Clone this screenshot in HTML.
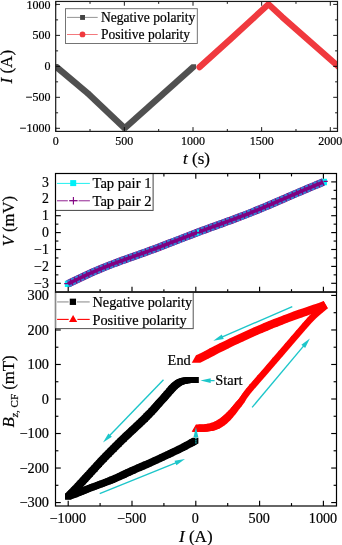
<!DOCTYPE html>
<html><head><meta charset="utf-8"><style>
html,body{margin:0;padding:0;background:#fff;}
svg{display:block;will-change:transform;}
text{font-family:"Liberation Serif",serif;fill:#000;stroke:#000;stroke-width:0.2px;}
</style></head><body>
<svg width="342" height="545" viewBox="0 0 342 545">
<rect width="342" height="545" fill="#fff"/>
<defs><clipPath id="c1"><rect x="55.7" y="1.45" width="281.8" height="129.95"/></clipPath>
<clipPath id="c2"><rect x="55.5" y="173.5" width="281" height="118.6"/></clipPath>
<clipPath id="c3"><rect x="55.5" y="292.1" width="281" height="213.9"/></clipPath></defs>
<g clip-path="url(#c1)"><g fill="#505050"><polygon points="53.45,64.1 57.95,64.1 90.25,91.35 90.25,95.85 85.75,95.85 53.45,68.6"/><polygon points="85.75,91.35 90.25,91.35 126.9,126.05 126.9,130.55 122.4,130.55 85.75,95.85"/><polygon points="122.4,126.05 191.55,64.2 196.05,64.2 196.05,68.7 126.9,130.55 122.4,130.55"/></g><polyline points="199.5,67.1 230,39.6 256,15.8 268.5,4.3 282,16.8 340,67.9" fill="none" stroke="#f0393e" stroke-width="6.3" stroke-linejoin="round" stroke-linecap="round"/></g>
<g><line x1="55.7" y1="128.3" x2="60" y2="128.3" stroke="#000" stroke-width="0.9"/><line x1="337.5" y1="128.3" x2="333.2" y2="128.3" stroke="#000" stroke-width="0.9"/><line x1="55.7" y1="112.81" x2="58.1" y2="112.81" stroke="#000" stroke-width="0.9"/><line x1="337.5" y1="112.81" x2="335.1" y2="112.81" stroke="#000" stroke-width="0.9"/><line x1="55.7" y1="97.32" x2="60" y2="97.32" stroke="#000" stroke-width="0.9"/><line x1="337.5" y1="97.32" x2="333.2" y2="97.32" stroke="#000" stroke-width="0.9"/><line x1="55.7" y1="81.84" x2="58.1" y2="81.84" stroke="#000" stroke-width="0.9"/><line x1="337.5" y1="81.84" x2="335.1" y2="81.84" stroke="#000" stroke-width="0.9"/><line x1="55.7" y1="66.35" x2="60" y2="66.35" stroke="#000" stroke-width="0.9"/><line x1="337.5" y1="66.35" x2="333.2" y2="66.35" stroke="#000" stroke-width="0.9"/><line x1="55.7" y1="50.86" x2="58.1" y2="50.86" stroke="#000" stroke-width="0.9"/><line x1="337.5" y1="50.86" x2="335.1" y2="50.86" stroke="#000" stroke-width="0.9"/><line x1="55.7" y1="35.38" x2="60" y2="35.38" stroke="#000" stroke-width="0.9"/><line x1="337.5" y1="35.38" x2="333.2" y2="35.38" stroke="#000" stroke-width="0.9"/><line x1="55.7" y1="19.89" x2="58.1" y2="19.89" stroke="#000" stroke-width="0.9"/><line x1="337.5" y1="19.89" x2="335.1" y2="19.89" stroke="#000" stroke-width="0.9"/><line x1="55.7" y1="4.4" x2="60" y2="4.4" stroke="#000" stroke-width="0.9"/><line x1="337.5" y1="4.4" x2="333.2" y2="4.4" stroke="#000" stroke-width="0.9"/><line x1="55.7" y1="131.4" x2="55.7" y2="127.1" stroke="#000" stroke-width="0.9"/><line x1="55.7" y1="1.45" x2="55.7" y2="5.75" stroke="#000" stroke-width="0.9"/><line x1="90.03" y1="131.4" x2="90.03" y2="129" stroke="#000" stroke-width="0.9"/><line x1="90.03" y1="1.45" x2="90.03" y2="3.85" stroke="#000" stroke-width="0.9"/><line x1="124.35" y1="131.4" x2="124.35" y2="127.1" stroke="#000" stroke-width="0.9"/><line x1="124.35" y1="1.45" x2="124.35" y2="5.75" stroke="#000" stroke-width="0.9"/><line x1="158.68" y1="131.4" x2="158.68" y2="129" stroke="#000" stroke-width="0.9"/><line x1="158.68" y1="1.45" x2="158.68" y2="3.85" stroke="#000" stroke-width="0.9"/><line x1="193" y1="131.4" x2="193" y2="127.1" stroke="#000" stroke-width="0.9"/><line x1="193" y1="1.45" x2="193" y2="5.75" stroke="#000" stroke-width="0.9"/><line x1="227.32" y1="131.4" x2="227.32" y2="129" stroke="#000" stroke-width="0.9"/><line x1="227.32" y1="1.45" x2="227.32" y2="3.85" stroke="#000" stroke-width="0.9"/><line x1="261.65" y1="131.4" x2="261.65" y2="127.1" stroke="#000" stroke-width="0.9"/><line x1="261.65" y1="1.45" x2="261.65" y2="5.75" stroke="#000" stroke-width="0.9"/><line x1="295.98" y1="131.4" x2="295.98" y2="129" stroke="#000" stroke-width="0.9"/><line x1="295.98" y1="1.45" x2="295.98" y2="3.85" stroke="#000" stroke-width="0.9"/><line x1="330.3" y1="131.4" x2="330.3" y2="127.1" stroke="#000" stroke-width="0.9"/><line x1="330.3" y1="1.45" x2="330.3" y2="5.75" stroke="#000" stroke-width="0.9"/></g>
<rect x="65.5" y="8.7" width="131.8" height="34.8" fill="#fff" stroke="#666" stroke-width="0.9"/>
<line x1="67" y1="17.4" x2="97.7" y2="17.4" stroke="#888" stroke-width="0.9"/>
<rect x="80.1" y="15.0" width="4.9" height="4.9" fill="#444"/>
<line x1="67" y1="34.5" x2="97.7" y2="34.5" stroke="#f26a6e" stroke-width="0.9"/>
<circle cx="82.5" cy="34.4" r="2.9" fill="#f0393e"/>
<text x="100.9" y="21.7" font-size="13.55" text-anchor="start">Negative polarity</text>
<text x="100.9" y="38.6" font-size="13.55" text-anchor="start">Positive polarity</text>
<rect x="55.7" y="1.45" width="281.8" height="129.95" fill="none" stroke="#1a1a1a" stroke-width="1.2"/>
<text x="50.6" y="8.5" font-size="12" text-anchor="end">1000</text>
<text x="50.6" y="39.48" font-size="12" text-anchor="end">500</text>
<text x="50.6" y="70.45" font-size="12" text-anchor="end">0</text>
<text x="50.6" y="101.42" font-size="12" text-anchor="end">&#8722;500</text>
<text x="50.6" y="132.4" font-size="12" text-anchor="end">&#8722;1000</text>
<text x="55.7" y="145.4" font-size="12" text-anchor="middle">0</text>
<text x="124.35" y="145.4" font-size="12" text-anchor="middle">500</text>
<text x="193" y="145.4" font-size="12" text-anchor="middle">1000</text>
<text x="261.65" y="145.4" font-size="12" text-anchor="middle">1500</text>
<text x="330.3" y="145.4" font-size="12" text-anchor="middle">2000</text>
<text x="196.5" y="164.3" font-size="17" text-anchor="middle"><tspan font-style="italic">t</tspan> (s)</text>
<text transform="translate(12.2,66.7) rotate(-90)" x="0" y="0" font-size="17" text-anchor="middle"><tspan font-style="italic">I</tspan> (A)</text>
<g clip-path="url(#c2)"><rect x="64.85" y="280.7" width="6.3" height="6.3" fill="#00f0f8"/><rect x="320.45" y="178.75" width="6.5" height="6.5" fill="#00f0f8"/><polyline points="68,283.85 71.19,282.29 74.39,280.74 77.58,279.21 80.77,277.68 83.96,276.18 87.16,274.7 90.35,273.25 93.54,271.84 96.73,270.45 99.92,269.1 103.12,267.78 106.31,266.5 109.5,265.24 112.69,264.02 115.89,262.82 119.08,261.64 122.27,260.48 125.47,259.33 128.66,258.19 131.85,257.06 135.04,255.93 138.23,254.8 141.43,253.67 144.62,252.52 147.81,251.37 151,250.2 154.2,249.02 157.39,247.83 160.58,246.62 163.77,245.41 166.97,244.19 170.16,242.95 173.35,241.72 176.54,240.48 179.74,239.24 182.93,238 186.12,236.77 189.31,235.54 192.51,234.32 195.7,233.12 198.89,231.92 202.08,230.73 205.28,229.55 208.47,228.38 211.66,227.22 214.85,226.06 218.05,224.91 221.24,223.76 224.43,222.61 227.62,221.45 230.82,220.28 234.01,219.11 237.2,217.92 240.39,216.72 243.59,215.5 246.78,214.26 249.97,213.01 253.16,211.73 256.36,210.44 259.55,209.13 262.74,207.8 265.94,206.45 269.13,205.1 272.32,203.73 275.51,202.35 278.7,200.97 281.9,199.59 285.09,198.2 288.28,196.82 291.48,195.44 294.67,194.06 297.86,192.7 301.05,191.34 304.25,189.98 307.44,188.64 310.63,187.3 313.82,185.97 317.01,184.64 320.21,183.32 323.4,182" fill="none" stroke="#800080" stroke-width="7.7"/><polyline points="66.82,281.42 70.01,279.87 73.21,278.31 76.41,276.77 79.61,275.24 82.82,273.73 86.03,272.25 89.24,270.79 92.45,269.36 95.67,267.97 98.88,266.61 102.1,265.28 105.31,263.99 108.52,262.73 111.74,261.49 114.94,260.29 118.15,259.1 121.36,257.94 124.56,256.79 127.75,255.65 130.95,254.52 134.14,253.39 137.33,252.26 140.52,251.12 143.7,249.98 146.89,248.83 150.07,247.66 153.26,246.49 156.44,245.3 159.63,244.1 162.81,242.89 166,241.67 169.19,240.44 172.38,239.2 175.57,237.96 178.76,236.72 181.96,235.48 185.15,234.25 188.35,233.02 191.55,231.8 194.75,230.59 197.95,229.39 201.15,228.2 204.35,227.02 207.54,225.84 210.74,224.68 213.94,223.52 217.13,222.37 220.32,221.22 223.51,220.07 226.7,218.91 229.89,217.75 233.07,216.58 236.26,215.39 239.44,214.19 242.62,212.98 245.8,211.75 248.98,210.5 252.16,209.23 255.34,207.94 258.52,206.63 261.7,205.31 264.88,203.97 268.07,202.61 271.25,201.25 274.44,199.87 277.63,198.49 280.82,197.11 284.02,195.72 287.21,194.34 290.41,192.96 293.6,191.58 296.8,190.21 300,188.85 303.19,187.5 306.39,186.15 309.59,184.81 312.79,183.48 315.98,182.15 319.17,180.83 322.37,179.51" fill="none" stroke="#3482d2" stroke-width="1.9" stroke-dasharray="3.3 1.2"/><polyline points="69.18,286.28 72.37,284.72 75.56,283.17 78.74,281.64 81.93,280.12 85.1,278.63 88.28,277.16 91.45,275.72 94.63,274.31 97.8,272.93 100.97,271.59 104.14,270.28 107.31,269.01 110.48,267.76 113.65,266.54 116.83,265.35 120.01,264.17 123.19,263.02 126.37,261.87 129.56,260.74 132.75,259.61 135.94,258.48 139.14,257.35 142.34,256.21 145.54,255.06 148.74,253.9 151.94,252.73 155.14,251.55 158.34,250.36 161.54,249.15 164.74,247.93 167.94,246.71 171.13,245.47 174.33,244.24 177.52,243 180.71,241.76 183.9,240.52 187.09,239.29 190.28,238.06 193.47,236.85 196.65,235.64 199.84,234.45 203.02,233.26 206.21,232.08 209.4,230.92 212.58,229.76 215.77,228.6 218.96,227.45 222.16,226.3 225.35,225.14 228.55,223.99 231.75,222.82 234.95,221.64 238.15,220.45 241.35,219.24 244.56,218.02 247.76,216.78 250.97,215.52 254.17,214.24 257.38,212.94 260.58,211.62 263.78,210.29 266.99,208.94 270.19,207.58 273.39,206.21 276.58,204.83 279.78,203.45 282.97,202.06 286.16,200.68 289.35,199.3 292.54,197.92 295.73,196.54 298.92,195.18 302.11,193.82 305.3,192.47 308.48,191.13 311.67,189.79 314.86,188.46 318.05,187.14 321.24,185.82 324.43,184.49" fill="none" stroke="#3482d2" stroke-width="1.9" stroke-dasharray="3.3 1.2"/><line x1="64.2" y1="283.55" x2="71.8" y2="283.55" stroke="#800080" stroke-width="1.2"/><rect x="197" y="229.8" width="2" height="2" fill="#00f0f8"/><rect x="197" y="233.6" width="2" height="2" fill="#00f0f8"/><line x1="323.6" y1="181.4" x2="327.8" y2="181.4" stroke="#800080" stroke-width="1.2"/></g>
<g><line x1="55.5" y1="283.3" x2="60.8" y2="283.3" stroke="#000" stroke-width="1.15"/><line x1="336.5" y1="283.3" x2="331.2" y2="283.3" stroke="#000" stroke-width="1.15"/><line x1="55.5" y1="274.85" x2="58.4" y2="274.85" stroke="#000" stroke-width="1.15"/><line x1="336.5" y1="274.85" x2="333.6" y2="274.85" stroke="#000" stroke-width="1.15"/><line x1="55.5" y1="266.4" x2="60.8" y2="266.4" stroke="#000" stroke-width="1.15"/><line x1="336.5" y1="266.4" x2="331.2" y2="266.4" stroke="#000" stroke-width="1.15"/><line x1="55.5" y1="257.95" x2="58.4" y2="257.95" stroke="#000" stroke-width="1.15"/><line x1="336.5" y1="257.95" x2="333.6" y2="257.95" stroke="#000" stroke-width="1.15"/><line x1="55.5" y1="249.5" x2="60.8" y2="249.5" stroke="#000" stroke-width="1.15"/><line x1="336.5" y1="249.5" x2="331.2" y2="249.5" stroke="#000" stroke-width="1.15"/><line x1="55.5" y1="241.05" x2="58.4" y2="241.05" stroke="#000" stroke-width="1.15"/><line x1="336.5" y1="241.05" x2="333.6" y2="241.05" stroke="#000" stroke-width="1.15"/><line x1="55.5" y1="232.6" x2="60.8" y2="232.6" stroke="#000" stroke-width="1.15"/><line x1="336.5" y1="232.6" x2="331.2" y2="232.6" stroke="#000" stroke-width="1.15"/><line x1="55.5" y1="224.15" x2="58.4" y2="224.15" stroke="#000" stroke-width="1.15"/><line x1="336.5" y1="224.15" x2="333.6" y2="224.15" stroke="#000" stroke-width="1.15"/><line x1="55.5" y1="215.7" x2="60.8" y2="215.7" stroke="#000" stroke-width="1.15"/><line x1="336.5" y1="215.7" x2="331.2" y2="215.7" stroke="#000" stroke-width="1.15"/><line x1="55.5" y1="207.25" x2="58.4" y2="207.25" stroke="#000" stroke-width="1.15"/><line x1="336.5" y1="207.25" x2="333.6" y2="207.25" stroke="#000" stroke-width="1.15"/><line x1="55.5" y1="198.8" x2="60.8" y2="198.8" stroke="#000" stroke-width="1.15"/><line x1="336.5" y1="198.8" x2="331.2" y2="198.8" stroke="#000" stroke-width="1.15"/><line x1="55.5" y1="190.35" x2="58.4" y2="190.35" stroke="#000" stroke-width="1.15"/><line x1="336.5" y1="190.35" x2="333.6" y2="190.35" stroke="#000" stroke-width="1.15"/><line x1="55.5" y1="181.9" x2="60.8" y2="181.9" stroke="#000" stroke-width="1.15"/><line x1="336.5" y1="181.9" x2="331.2" y2="181.9" stroke="#000" stroke-width="1.15"/><line x1="68.2" y1="292.1" x2="68.2" y2="286.8" stroke="#000" stroke-width="1.15"/><line x1="68.2" y1="173.5" x2="68.2" y2="178.8" stroke="#000" stroke-width="1.15"/><line x1="100.1" y1="292.1" x2="100.1" y2="289.2" stroke="#000" stroke-width="1.15"/><line x1="100.1" y1="173.5" x2="100.1" y2="176.4" stroke="#000" stroke-width="1.15"/><line x1="132" y1="292.1" x2="132" y2="286.8" stroke="#000" stroke-width="1.15"/><line x1="132" y1="173.5" x2="132" y2="178.8" stroke="#000" stroke-width="1.15"/><line x1="163.9" y1="292.1" x2="163.9" y2="289.2" stroke="#000" stroke-width="1.15"/><line x1="163.9" y1="173.5" x2="163.9" y2="176.4" stroke="#000" stroke-width="1.15"/><line x1="195.8" y1="292.1" x2="195.8" y2="286.8" stroke="#000" stroke-width="1.15"/><line x1="195.8" y1="173.5" x2="195.8" y2="178.8" stroke="#000" stroke-width="1.15"/><line x1="227.7" y1="292.1" x2="227.7" y2="289.2" stroke="#000" stroke-width="1.15"/><line x1="227.7" y1="173.5" x2="227.7" y2="176.4" stroke="#000" stroke-width="1.15"/><line x1="259.6" y1="292.1" x2="259.6" y2="286.8" stroke="#000" stroke-width="1.15"/><line x1="259.6" y1="173.5" x2="259.6" y2="178.8" stroke="#000" stroke-width="1.15"/><line x1="291.5" y1="292.1" x2="291.5" y2="289.2" stroke="#000" stroke-width="1.15"/><line x1="291.5" y1="173.5" x2="291.5" y2="176.4" stroke="#000" stroke-width="1.15"/><line x1="323.4" y1="292.1" x2="323.4" y2="286.8" stroke="#000" stroke-width="1.15"/><line x1="323.4" y1="173.5" x2="323.4" y2="178.8" stroke="#000" stroke-width="1.15"/></g>
<rect x="55.5" y="173.5" width="97.6" height="36.9" fill="#fff" stroke="#444" stroke-width="1"/>
<line x1="57" y1="183.4" x2="89.9" y2="183.4" stroke="#20f0f0" stroke-width="1"/>
<rect x="70.2" y="180.1" width="6" height="6" fill="#00f0f8"/>
<line x1="57" y1="200.7" x2="67.8" y2="200.7" stroke="#b060b0" stroke-width="1.4"/>
<line x1="78.6" y1="200.7" x2="89.9" y2="200.7" stroke="#b060b0" stroke-width="1.4"/>
<line x1="73.4" y1="196.9" x2="73.4" y2="204.6" stroke="#800080" stroke-width="1.1"/>
<line x1="69.2" y1="200.7" x2="77.6" y2="200.7" stroke="#800080" stroke-width="1.3"/>
<text x="92.5" y="187.7" font-size="14.6" text-anchor="start">Tap pair 1</text>
<text x="92.5" y="205.6" font-size="14.6" text-anchor="start">Tap pair 2</text>
<rect x="55.5" y="173.5" width="281" height="118.6" fill="none" stroke="#000" stroke-width="1.2"/>
<text x="48.8" y="287.9" font-size="13.8" text-anchor="end">&#8722;3</text>
<text x="48.8" y="271" font-size="13.8" text-anchor="end">&#8722;2</text>
<text x="48.8" y="254.1" font-size="13.8" text-anchor="end">&#8722;1</text>
<text x="48.8" y="237.2" font-size="13.8" text-anchor="end">0</text>
<text x="48.8" y="220.3" font-size="13.8" text-anchor="end">1</text>
<text x="48.8" y="203.4" font-size="13.8" text-anchor="end">2</text>
<text x="48.8" y="186.5" font-size="13.8" text-anchor="end">3</text>
<text transform="translate(13.9,221.1) rotate(-90)" x="0" y="0" font-size="16.6" text-anchor="middle"><tspan font-style="italic">V</tspan> (mV)</text>
<g clip-path="url(#c3)"><g fill="#000"><polygon points="192.35,377.11 193,377.1 198.8,377.1 198.8,382.9 198.15,382.91 192.35,382.91"/><polygon points="191.44,377.11 192.35,377.11 198.15,377.11 198.15,382.91 197.24,382.91 191.44,382.91"/><polygon points="190.36,377.12 191.44,377.11 197.24,377.11 197.24,382.91 196.16,382.92 190.36,382.92"/><polygon points="189.22,377.13 190.36,377.12 196.16,377.12 196.16,382.92 195.02,382.93 189.22,382.93"/><polygon points="188.1,377.16 189.22,377.13 195.02,377.13 195.02,382.93 193.9,382.96 188.1,382.96"/><polygon points="187.1,377.2 188.1,377.16 193.9,377.16 193.9,382.96 192.9,383 187.1,383"/><polygon points="186.21,377.25 187.1,377.2 192.9,377.2 192.9,383 192.01,383.05 186.21,383.05"/><polygon points="185.35,377.31 186.21,377.25 192.01,377.25 192.01,383.05 191.15,383.11 185.35,383.11"/><polygon points="184.51,377.38 185.35,377.31 191.15,377.31 191.15,383.11 190.31,383.18 184.51,383.18"/><polygon points="183.7,377.46 184.51,377.38 190.31,377.38 190.31,383.18 189.5,383.26 183.7,383.26"/><polygon points="182.89,377.57 183.7,377.46 189.5,377.46 189.5,383.26 188.69,383.37 182.89,383.37"/><polygon points="182.1,377.7 182.89,377.57 188.69,377.57 188.69,383.37 187.9,383.5 182.1,383.5"/><polygon points="181.31,377.86 182.1,377.7 187.9,377.7 187.9,383.5 187.12,383.66 181.31,383.66"/><polygon points="180.54,378.03 181.31,377.86 187.12,377.86 187.12,383.66 186.34,383.83 180.54,383.83"/><polygon points="179.79,378.23 180.54,378.03 186.34,378.03 186.34,383.83 185.59,384.03 179.79,384.03"/><polygon points="179.04,378.46 179.79,378.23 185.59,378.23 185.59,384.03 184.84,384.26 179.04,384.26"/><polygon points="178.31,378.71 179.04,378.46 184.84,378.46 184.84,384.26 184.12,384.51 178.31,384.51"/><polygon points="177.6,379 178.31,378.71 184.12,378.71 184.12,384.51 183.4,384.8 177.6,384.8"/><polygon points="176.9,379.32 177.6,379 183.4,379 183.4,384.8 182.7,385.12 176.9,385.12"/><polygon points="176.23,379.67 176.9,379.32 182.7,379.32 182.7,385.12 182.03,385.47 176.23,385.47"/><polygon points="175.57,380.05 176.23,379.67 182.03,379.67 182.03,385.47 181.37,385.85 175.57,385.85"/><polygon points="174.91,380.46 175.57,380.05 181.37,380.05 181.37,385.85 180.72,386.26 174.91,386.26"/><polygon points="174.26,380.91 174.91,380.46 180.72,380.46 180.72,386.26 180.06,386.71 174.26,386.71"/><polygon points="173.6,381.4 174.26,380.91 180.06,380.91 180.06,386.71 179.4,387.2 173.6,387.2"/><polygon points="172.94,381.93 173.6,381.4 179.4,381.4 179.4,387.2 178.74,387.73 172.94,387.73"/><polygon points="172.27,382.5 172.94,381.93 178.74,381.93 178.74,387.73 178.07,388.3 172.27,388.3"/><polygon points="171.61,383.1 172.27,382.5 178.07,382.5 178.07,388.3 177.41,388.9 171.61,388.9"/><polygon points="170.95,383.74 171.61,383.1 177.41,383.1 177.41,388.9 176.75,389.54 170.95,389.54"/><polygon points="170.28,384.4 170.95,383.74 176.75,383.74 176.75,389.54 176.08,390.2 170.28,390.2"/><polygon points="169.6,385.1 170.28,384.4 176.08,384.4 176.08,390.2 175.4,390.9 169.6,390.9"/><polygon points="168.91,385.83 169.6,385.1 175.4,385.1 175.4,390.9 174.72,391.63 168.91,391.63"/><polygon points="168.23,386.6 168.91,385.83 174.72,385.83 174.72,391.63 174.03,392.4 168.23,392.4"/><polygon points="167.53,387.41 168.23,386.6 174.03,386.6 174.03,392.4 173.33,393.21 167.53,393.21"/><polygon points="166.83,388.23 167.53,387.41 173.33,387.41 173.33,393.21 172.63,394.03 166.83,394.03"/><polygon points="166.12,389.06 166.83,388.23 172.63,388.23 172.63,394.03 171.92,394.86 166.12,394.86"/><polygon points="165.4,389.9 166.12,389.06 171.92,389.06 171.92,394.86 171.2,395.7 165.4,395.7"/><polygon points="164.68,390.73 165.4,389.9 171.2,389.9 171.2,395.7 170.48,396.53 164.68,396.53"/><polygon points="163.96,391.57 164.68,390.73 170.48,390.73 170.48,396.53 169.76,397.37 163.96,397.37"/><polygon points="163.23,392.43 163.96,391.57 169.76,391.57 169.76,397.37 169.03,398.23 163.23,398.23"/><polygon points="162.49,393.29 163.23,392.43 169.03,392.43 169.03,398.23 168.28,399.09 162.49,399.09"/><polygon points="161.71,394.18 162.49,393.29 168.28,393.29 168.28,399.09 167.51,399.98 161.71,399.98"/><polygon points="160.9,395.1 161.71,394.18 167.51,394.18 167.51,399.98 166.7,400.9 160.9,400.9"/><polygon points="160.04,396.05 160.9,395.1 166.7,395.1 166.7,400.9 165.84,401.85 160.04,401.85"/><polygon points="159.13,397.04 160.04,396.05 165.84,396.05 165.84,401.85 164.93,402.84 159.13,402.84"/><polygon points="158.2,398.05 159.13,397.04 164.93,397.04 164.93,402.84 164,403.85 158.2,403.85"/><polygon points="157.26,399.07 158.2,398.05 164,398.05 164,403.85 163.06,404.87 157.26,404.87"/><polygon points="156.32,400.09 157.26,399.07 163.06,399.07 163.06,404.87 162.12,405.89 156.32,405.89"/><polygon points="155.4,401.1 156.32,400.09 162.12,400.09 162.12,405.89 161.2,406.9 155.4,406.9"/><polygon points="154.56,402.05 155.4,401.1 161.2,401.1 161.2,406.9 160.36,407.85 154.56,407.85"/><polygon points="153.78,402.95 154.56,402.05 160.36,402.05 160.36,407.85 159.59,408.75 153.78,408.75"/><polygon points="153.02,403.85 153.78,402.95 159.59,402.95 159.59,408.75 158.82,409.65 153.02,409.65"/><polygon points="152.19,404.8 153.02,403.85 158.82,403.85 158.82,409.65 157.99,410.6 152.19,410.6"/><polygon points="151.24,405.87 152.19,404.8 157.99,404.8 157.99,410.6 157.04,411.67 151.24,411.67"/><polygon points="150.1,407.1 151.24,405.87 157.04,405.87 157.04,411.67 155.9,412.9 150.1,412.9"/><polygon points="148.74,408.54 150.1,407.1 155.9,407.1 155.9,412.9 154.54,414.33 148.74,414.33"/><polygon points="147.2,410.14 148.74,408.54 154.54,408.54 154.54,414.33 153,415.94 147.2,415.94"/><polygon points="145.53,411.85 147.2,410.14 153,410.14 153,415.94 151.33,417.65 145.53,417.65"/><polygon points="143.79,413.62 145.53,411.85 151.33,411.85 151.33,417.65 149.59,419.42 143.79,419.42"/><polygon points="142.03,415.39 143.79,413.62 149.59,413.62 149.59,419.42 147.83,421.19 142.03,421.19"/><polygon points="140.3,417.1 142.03,415.39 147.83,415.39 147.83,421.19 146.1,422.9 140.3,422.9"/><polygon points="138.58,418.77 140.3,417.1 146.1,417.1 146.1,422.9 144.38,424.57 138.58,424.57"/><polygon points="136.83,420.43 138.58,418.77 144.38,418.77 144.38,424.57 142.63,426.23 136.83,426.23"/><polygon points="135.05,422.1 136.83,420.43 142.63,420.43 142.63,426.23 140.85,427.9 135.05,427.9"/><polygon points="133.26,423.77 135.05,422.1 140.85,422.1 140.85,427.9 139.06,429.57 133.26,429.57"/><polygon points="131.48,425.43 133.26,423.77 139.06,423.77 139.06,429.57 137.28,431.23 131.48,431.23"/><polygon points="129.7,427.1 131.48,425.43 137.28,425.43 137.28,431.23 135.5,432.9 129.7,432.9"/><polygon points="127.93,428.77 129.7,427.1 135.5,427.1 135.5,432.9 133.73,434.57 127.93,434.57"/><polygon points="126.14,430.43 127.93,428.77 133.73,428.77 133.73,434.57 131.94,436.23 126.14,436.23"/><polygon points="124.36,432.1 126.14,430.43 131.94,430.43 131.94,436.23 130.16,437.9 124.36,437.9"/><polygon points="122.59,433.77 124.36,432.1 130.16,432.1 130.16,437.9 128.39,439.57 122.59,439.57"/><polygon points="120.83,435.43 122.59,433.77 128.39,433.77 128.39,439.57 126.63,441.23 120.83,441.23"/><polygon points="119.1,437.1 120.83,435.43 126.63,435.43 126.63,441.23 124.9,442.9 119.1,442.9"/><polygon points="117.4,438.77 119.1,437.1 124.9,437.1 124.9,442.9 123.2,444.57 117.4,444.57"/><polygon points="115.72,440.43 117.4,438.77 123.2,438.77 123.2,444.57 121.52,446.23 115.72,446.23"/><polygon points="114.05,442.1 115.72,440.43 121.52,440.43 121.52,446.23 119.85,447.9 114.05,447.9"/><polygon points="112.4,443.77 114.05,442.1 119.85,442.1 119.85,447.9 118.2,449.57 112.4,449.57"/><polygon points="110.75,445.43 112.4,443.77 118.2,443.77 118.2,449.57 116.55,451.23 110.75,451.23"/><polygon points="109.1,447.1 110.75,445.43 116.55,445.43 116.55,451.23 114.9,452.9 109.1,452.9"/><polygon points="107.45,448.77 109.1,447.1 114.9,447.1 114.9,452.9 113.25,454.57 107.45,454.57"/><polygon points="105.8,450.43 107.45,448.77 113.25,448.77 113.25,454.57 111.6,456.23 105.8,456.23"/><polygon points="104.15,452.1 105.8,450.43 111.6,450.43 111.6,456.23 109.95,457.9 104.15,457.9"/><polygon points="102.52,453.77 104.15,452.1 109.95,452.1 109.95,457.9 108.31,459.57 102.52,459.57"/><polygon points="100.9,455.43 102.52,453.77 108.31,453.77 108.31,459.57 106.7,461.23 100.9,461.23"/><polygon points="99.3,457.1 100.9,455.43 106.7,455.43 106.7,461.23 105.1,462.9 99.3,462.9"/><polygon points="97.73,458.77 99.3,457.1 105.1,457.1 105.1,462.9 103.53,464.57 97.73,464.57"/><polygon points="96.19,460.43 97.73,458.77 103.53,458.77 103.53,464.57 101.99,466.23 96.19,466.23"/><polygon points="94.66,462.1 96.19,460.43 101.99,460.43 101.99,466.23 100.46,467.9 94.66,467.9"/><polygon points="93.14,463.77 94.66,462.1 100.46,462.1 100.46,467.9 98.94,469.57 93.14,469.57"/><polygon points="91.63,465.43 93.14,463.77 98.94,463.77 98.94,469.57 97.43,471.23 91.63,471.23"/><polygon points="90.1,467.1 91.63,465.43 97.43,465.43 97.43,471.23 95.9,472.9 90.1,472.9"/><polygon points="88.56,468.78 90.1,467.1 95.9,467.1 95.9,472.9 94.36,474.58 88.56,474.58"/><polygon points="87,470.47 88.56,468.78 94.36,468.78 94.36,474.58 92.8,476.27 87,476.27"/><polygon points="85.44,472.16 87,470.47 92.8,470.47 92.8,476.27 91.24,477.96 85.44,477.96"/><polygon points="83.9,473.84 85.44,472.16 91.24,472.16 91.24,477.96 89.7,479.64 83.9,479.64"/><polygon points="82.38,475.49 83.9,473.84 89.7,473.84 89.7,479.64 88.18,481.29 82.38,481.29"/><polygon points="80.9,477.1 82.38,475.49 88.18,475.49 88.18,481.29 86.7,482.9 80.9,482.9"/><polygon points="79.46,478.67 80.9,477.1 86.7,477.1 86.7,482.9 85.26,484.47 79.46,484.47"/><polygon points="78.04,480.23 79.46,478.67 85.26,478.67 85.26,484.47 83.84,486.03 78.04,486.03"/><polygon points="76.65,481.75 78.04,480.23 83.84,480.23 83.84,486.03 82.45,487.55 76.65,487.55"/><polygon points="75.28,483.24 76.65,481.75 82.45,481.75 82.45,487.55 81.08,489.04 75.28,489.04"/><polygon points="73.93,484.69 75.28,483.24 81.08,483.24 81.08,489.04 79.73,490.49 73.93,490.49"/><polygon points="72.6,486.1 73.93,484.69 79.73,484.69 79.73,490.49 78.4,491.9 72.6,491.9"/><polygon points="71.2,487.54 72.6,486.1 78.4,486.1 78.4,491.9 77,493.34 71.2,493.34"/><polygon points="69.73,489.02 71.2,487.54 77,487.54 77,493.34 75.53,494.82 69.73,494.82"/><polygon points="68.28,490.46 69.73,489.02 75.53,489.02 75.53,494.82 74.08,496.26 68.28,496.26"/><polygon points="66.94,491.78 68.28,490.46 74.08,490.46 74.08,496.26 72.74,497.58 66.94,497.58"/><polygon points="65.82,492.89 66.94,491.78 72.74,491.78 72.74,497.58 71.62,498.69 65.82,498.69"/><polygon points="65,493.7 65.82,492.89 71.62,492.89 71.62,498.69 70.8,499.5 65,499.5"/></g><g fill="#000"><polygon points="65,493.7 65.86,493.4 71.66,493.4 71.66,499.2 70.8,499.5 65,499.5"/><polygon points="65.86,493.4 67.03,492.99 72.83,492.99 72.83,498.79 71.66,499.2 65.86,499.2"/><polygon points="67.03,492.99 68.42,492.51 74.22,492.51 74.22,498.31 72.83,498.79 67.03,498.79"/><polygon points="68.42,492.51 69.96,491.96 75.76,491.96 75.76,497.76 74.22,498.31 68.42,498.31"/><polygon points="69.96,491.96 71.55,491.39 77.35,491.39 77.35,497.19 75.76,497.76 69.96,497.76"/><polygon points="71.55,491.39 73.1,490.8 78.9,490.8 78.9,496.6 77.35,497.19 71.55,497.19"/><polygon points="73.1,490.8 74.63,490.19 80.43,490.19 80.43,495.99 78.9,496.6 73.1,496.6"/><polygon points="74.63,490.19 76.22,489.53 82.02,489.53 82.02,495.33 80.43,495.99 74.63,495.99"/><polygon points="76.22,489.53 77.86,488.84 83.66,488.84 83.66,494.64 82.02,495.33 76.22,495.33"/><polygon points="77.86,488.84 79.55,488.13 85.35,488.13 85.35,493.93 83.66,494.64 77.86,494.64"/><polygon points="79.55,488.13 81.3,487.42 87.1,487.42 87.1,493.21 85.35,493.93 79.55,493.93"/><polygon points="81.3,487.42 83.1,486.7 88.9,486.7 88.9,492.5 87.1,493.21 81.3,493.21"/><polygon points="83.1,486.7 84.98,485.99 90.78,485.99 90.78,491.79 88.9,492.5 83.1,492.5"/><polygon points="84.98,485.99 86.95,485.26 92.75,485.26 92.75,491.06 90.78,491.79 84.98,491.79"/><polygon points="86.95,485.26 88.97,484.53 94.78,484.53 94.78,490.33 92.75,491.06 86.95,491.06"/><polygon points="88.97,484.53 91.03,483.79 96.83,483.79 96.83,489.59 94.78,490.33 88.97,490.33"/><polygon points="91.03,483.79 93.08,483.05 98.88,483.05 98.88,488.85 96.83,489.59 91.03,489.59"/><polygon points="93.08,483.05 95.1,482.3 100.9,482.3 100.9,488.1 98.88,488.85 93.08,488.85"/><polygon points="95.1,482.3 97.1,481.55 102.9,481.55 102.9,487.35 100.9,488.1 95.1,488.1"/><polygon points="97.1,481.55 99.1,480.8 104.9,480.8 104.9,486.6 102.9,487.35 97.1,487.35"/><polygon points="99.1,480.8 101.1,480.05 106.9,480.05 106.9,485.85 104.9,486.6 99.1,486.6"/><polygon points="101.1,480.05 103.1,479.29 108.9,479.29 108.9,485.08 106.9,485.85 101.1,485.85"/><polygon points="103.1,479.29 105.1,478.5 110.9,478.5 110.9,484.3 108.9,485.08 103.1,485.08"/><polygon points="105.1,478.5 107.1,477.7 112.9,477.7 112.9,483.5 110.9,484.3 105.1,484.3"/><polygon points="107.1,477.7 109.15,476.85 114.95,476.85 114.95,482.65 112.9,483.5 107.1,483.5"/><polygon points="109.15,476.85 111.25,475.96 117.05,475.96 117.05,481.76 114.95,482.65 109.15,482.65"/><polygon points="111.25,475.96 113.35,475.05 119.15,475.05 119.15,480.85 117.05,481.76 111.25,481.76"/><polygon points="113.35,475.05 115.4,474.15 121.2,474.15 121.2,479.95 119.15,480.85 113.35,480.85"/><polygon points="115.4,474.15 117.33,473.29 123.13,473.29 123.13,479.09 121.2,479.95 115.4,479.95"/><polygon points="117.33,473.29 119.1,472.5 124.9,472.5 124.9,478.3 123.13,479.09 117.33,479.09"/><polygon points="119.1,472.5 120.54,471.84 126.34,471.84 126.34,477.64 124.9,478.3 119.1,478.3"/><polygon points="120.54,471.84 121.66,471.3 127.46,471.3 127.46,477.1 126.34,477.64 120.54,477.64"/><polygon points="121.66,471.3 122.66,470.79 128.46,470.79 128.46,476.59 127.46,477.1 121.66,477.1"/><polygon points="122.66,470.79 123.77,470.25 129.57,470.25 129.57,476.05 128.46,476.59 122.66,476.59"/><polygon points="123.77,470.25 125.18,469.58 130.98,469.58 130.98,475.38 129.57,476.05 123.77,476.05"/><polygon points="125.18,469.58 127.1,468.7 132.9,468.7 132.9,474.5 130.98,475.38 125.18,475.38"/><polygon points="127.1,468.7 129.63,467.58 135.43,467.58 135.43,473.38 132.9,474.5 127.1,474.5"/><polygon points="129.63,467.58 132.62,466.28 138.42,466.28 138.42,472.08 135.43,473.38 129.63,473.38"/><polygon points="132.62,466.28 135.91,464.86 141.71,464.86 141.71,470.66 138.42,472.08 132.62,472.08"/><polygon points="135.91,464.86 139.36,463.36 145.16,463.36 145.16,469.16 141.71,470.66 135.91,470.66"/><polygon points="139.36,463.36 142.81,461.86 148.61,461.86 148.61,467.66 145.16,469.16 139.36,469.16"/><polygon points="142.81,461.86 146.1,460.4 151.9,460.4 151.9,466.2 148.61,467.66 142.81,467.66"/><polygon points="146.1,460.4 149.32,458.95 155.12,458.95 155.12,464.75 151.9,466.2 146.1,466.2"/><polygon points="149.32,458.95 152.62,457.46 158.42,457.46 158.42,463.26 155.12,464.75 149.32,464.75"/><polygon points="152.62,457.46 155.91,455.96 161.71,455.96 161.71,461.76 158.42,463.26 152.62,463.26"/><polygon points="155.91,455.96 159.14,454.47 164.94,454.47 164.94,460.27 161.71,461.76 155.91,461.76"/><polygon points="159.14,454.47 162.22,453.05 168.02,453.05 168.02,458.85 164.94,460.27 159.14,460.27"/><polygon points="162.22,453.05 165.1,451.7 170.9,451.7 170.9,457.5 168.02,458.85 162.22,458.85"/><polygon points="165.1,451.7 167.73,450.46 173.53,450.46 173.53,456.26 170.9,457.5 165.1,457.5"/><polygon points="167.73,450.46 170.16,449.31 175.96,449.31 175.96,455.11 173.53,456.26 167.73,456.26"/><polygon points="170.16,449.31 172.44,448.21 178.24,448.21 178.24,454.01 175.96,455.11 170.16,455.11"/><polygon points="172.44,448.21 174.66,447.13 180.46,447.13 180.46,452.93 178.24,454.01 172.44,454.01"/><polygon points="174.66,447.13 176.85,446.03 182.65,446.03 182.65,451.83 180.46,452.93 174.66,452.93"/><polygon points="176.85,446.03 179.1,444.9 184.9,444.9 184.9,450.7 182.65,451.83 176.85,451.83"/><polygon points="179.1,444.9 181.53,443.64 187.34,443.64 187.34,449.44 184.9,450.7 179.1,450.7"/><polygon points="181.53,443.64 184.14,442.26 189.94,442.26 189.94,448.06 187.34,449.44 181.53,449.44"/><polygon points="184.14,442.26 186.72,440.88 192.53,440.88 192.53,446.68 189.94,448.06 184.14,448.06"/><polygon points="186.72,440.88 189.12,439.58 194.92,439.58 194.92,445.38 192.53,446.68 186.72,446.68"/><polygon points="189.12,439.58 191.14,438.49 196.94,438.49 196.94,444.29 194.92,445.38 189.12,445.38"/><polygon points="191.14,438.49 192.6,437.7 198.4,437.7 198.4,443.5 196.94,444.29 191.14,444.29"/></g><g fill="#ff0000"><polygon points="191.69,431.73 195.9,424.43 196.44,424.42 200.66,431.72 200.12,431.73"/><polygon points="192.23,431.72 196.44,424.42 197.2,424.41 201.42,431.71 200.66,431.72"/><polygon points="192.99,431.71 197.2,424.41 198.1,424.39 202.31,431.69 201.42,431.71"/><polygon points="193.88,431.69 198.1,424.39 199.06,424.37 203.27,431.67 202.31,431.69"/><polygon points="194.84,431.67 199.06,424.37 200,424.33 204.22,431.63 203.27,431.67"/><polygon points="195.78,431.63 200,424.33 200.94,424.3 205.16,431.6 204.22,431.63"/><polygon points="196.73,431.6 200.94,424.3 201.94,424.26 206.15,431.56 205.16,431.6"/><polygon points="197.72,431.56 201.94,424.26 202.96,424.21 207.17,431.51 206.15,431.56"/><polygon points="198.74,431.51 202.96,424.21 203.99,424.13 208.2,431.44 207.17,431.51"/><polygon points="199.77,431.44 203.99,424.13 205,424.03 209.22,431.33 208.2,431.44"/><polygon points="200.78,431.33 205,424.03 206,423.91 210.22,431.21 209.22,431.33"/><polygon points="201.78,431.21 206,423.91 207,423.76 211.22,431.06 210.22,431.21"/><polygon points="202.78,431.06 207,423.76 208,423.59 212.22,430.89 211.22,431.06"/><polygon points="203.78,430.89 208,423.59 209,423.38 213.22,430.68 212.22,430.89"/><polygon points="204.78,430.68 209,423.38 210,423.13 214.22,430.43 213.22,430.68"/><polygon points="205.78,430.43 210,423.13 211.02,422.84 215.23,430.14 214.22,430.43"/><polygon points="206.8,430.14 211.02,422.84 212.05,422.5 216.26,429.8 215.23,430.14"/><polygon points="207.83,429.8 212.05,422.5 213.07,422.13 217.29,429.43 216.26,429.8"/><polygon points="208.86,429.43 213.07,422.13 214.06,421.74 218.28,429.04 217.29,429.43"/><polygon points="209.85,429.04 214.06,421.74 215,421.33 219.22,428.63 218.28,429.04"/><polygon points="210.78,428.63 215,421.33 215.86,420.92 220.08,428.22 219.22,428.63"/><polygon points="211.65,428.22 215.86,420.92 216.67,420.49 220.89,427.79 220.08,428.22"/><polygon points="212.46,427.79 216.67,420.49 217.45,420.04 221.66,427.33 220.89,427.79"/><polygon points="213.23,427.33 217.45,420.04 218.22,419.55 222.43,426.85 221.66,427.33"/><polygon points="214,426.85 218.22,419.55 219,419.03 223.22,426.33 222.43,426.85"/><polygon points="214.78,426.33 219,419.03 219.8,418.48 224.01,425.78 223.22,426.33"/><polygon points="215.59,425.78 219.8,418.48 220.6,417.88 224.81,425.19 224.01,425.78"/><polygon points="216.38,425.19 220.6,417.88 221.4,417.26 225.62,424.56 224.81,425.19"/><polygon points="217.19,424.56 221.4,417.26 222.2,416.61 226.41,423.91 225.62,424.56"/><polygon points="217.99,423.91 222.2,416.61 223,415.93 227.22,423.23 226.41,423.91"/><polygon points="218.78,423.23 223,415.93 223.8,415.23 228.01,422.53 227.22,423.23"/><polygon points="219.59,422.53 223.8,415.23 224.6,414.49 228.81,421.79 228.01,422.53"/><polygon points="220.38,421.79 224.6,414.49 225.4,413.75 229.6,421.02 228.81,421.79"/><polygon points="221.2,421.02 225.4,413.75 226.2,413 230.37,420.22 229.6,421.02"/><polygon points="222.03,420.22 226.2,413 227,412.22 231.14,419.39 230.37,420.22"/><polygon points="222.86,419.39 227,412.22 227.8,411.42 231.91,418.54 231.14,419.39"/><polygon points="223.69,418.54 227.8,411.42 228.6,410.6 232.68,417.67 231.91,418.54"/><polygon points="224.52,417.67 228.6,410.6 229.4,409.76 233.45,416.77 232.68,417.67"/><polygon points="225.35,416.77 229.4,409.76 230.2,408.89 234.22,415.85 233.45,416.77"/><polygon points="226.18,415.85 230.2,408.89 231,407.99 234.99,414.9 234.22,415.85"/><polygon points="227.01,414.9 231,407.99 231.78,407.08 235.74,413.94 234.99,414.9"/><polygon points="227.82,413.94 231.78,407.08 232.55,406.16 236.48,412.97 235.74,413.94"/><polygon points="228.62,412.97 232.55,406.16 233.33,405.2 237.23,411.96 236.48,412.97"/><polygon points="229.43,411.96 233.33,405.2 234.14,404.21 238.01,410.92 237.23,411.96"/><polygon points="230.26,410.92 234.14,404.21 235,403.17 238.84,409.82 238.01,410.92"/><polygon points="231.16,409.82 235,403.17 235.91,402.11 239.71,408.7 238.84,409.82"/><polygon points="232.1,408.7 235.91,402.11 236.85,401.05 240.62,407.58 239.71,408.7"/><polygon points="233.08,407.58 236.85,401.05 237.83,399.93 241.56,406.39 240.62,407.58"/><polygon points="234.1,406.39 237.83,399.93 238.88,398.69 242.57,405.09 241.56,406.39"/><polygon points="235.18,405.09 238.88,398.69 240,397.28 243.65,403.61 242.57,405.09"/><polygon points="236.35,403.61 240,397.28 241.01,395.88 244.62,402.14 243.65,403.61"/><polygon points="237.39,402.14 241.01,395.88 241.89,394.51 245.47,400.71 244.62,402.14"/><polygon points="238.31,400.71 241.89,394.51 242.93,392.92 246.47,399.05 245.47,400.71"/><polygon points="239.39,399.05 242.93,392.92 244.44,390.86 247.92,396.89 246.47,399.05"/><polygon points="240.95,396.89 244.44,390.86 246.7,388 250.16,394 247.92,396.89"/><polygon points="243.24,394 246.7,388 249.81,384.29 253.27,390.29 250.16,394"/><polygon points="246.34,390.29 249.81,384.29 253.56,379.92 257.02,385.92 253.27,390.29"/><polygon points="250.09,385.92 253.56,379.92 257.83,375.02 261.29,381.02 257.02,385.92"/><polygon points="254.37,381.02 257.83,375.02 262.49,369.67 265.95,375.67 261.29,381.02"/><polygon points="259.02,375.67 262.49,369.67 267.4,364 270.86,370 265.95,375.67"/><polygon points="263.94,370 267.4,364 272.97,357.54 276.43,363.54 270.86,370"/><polygon points="269.5,363.54 272.97,357.54 279.27,350.21 282.73,356.21 276.43,363.54"/><polygon points="275.81,356.21 279.27,350.21 285.72,342.71 289.18,348.71 282.73,356.21"/><polygon points="282.25,348.71 285.72,342.71 291.73,335.74 295.19,341.74 289.18,348.71"/><polygon points="288.26,341.74 291.73,335.74 296.7,330 300.16,336 295.19,341.74"/><polygon points="293.24,336 296.7,330 300.38,325.75 303.84,331.75 300.16,336"/><polygon points="296.92,331.75 300.38,325.75 303.16,322.55 306.62,328.55 303.84,331.75"/><polygon points="299.69,328.55 303.16,322.55 305.43,319.96 308.89,325.96 306.62,328.55"/><polygon points="301.96,325.96 305.43,319.96 307.58,317.58 311.04,323.58 308.89,325.96"/><polygon points="304.11,323.58 307.58,317.58 310,315 313.46,321 311.04,323.58"/><polygon points="306.54,321 310,315 312.92,311.96 316.44,318.07 313.46,321"/><polygon points="309.39,318.07 312.92,311.96 316.07,308.65 319.8,315.11 316.44,318.07"/><polygon points="312.34,315.11 316.07,308.65 319.12,305.51 323.05,312.31 319.8,315.11"/><polygon points="315.2,312.31 319.12,305.51 321.75,302.84 325.84,309.93 323.05,312.31"/><polygon points="317.65,309.93 321.75,302.84 323.6,300.93 327.81,308.23 325.84,309.93"/></g><g fill="#ff0000"><polygon points="313.79,310.55 318,303.25 323.6,300.93 327.81,308.23 322.21,310.55"/><polygon points="308.87,312.13 313.08,304.83 318,303.25 322.21,310.55 317.3,312.13"/><polygon points="303.95,313.76 308.17,306.46 313.08,304.83 317.3,312.13 312.38,313.76"/><polygon points="299.04,315.43 303.25,308.13 308.17,306.46 312.38,313.76 307.46,315.43"/><polygon points="294.12,317.14 298.33,309.84 303.25,308.13 307.46,315.43 302.55,317.14"/><polygon points="289.2,318.9 293.42,311.6 298.33,309.84 302.55,317.14 297.63,318.9"/><polygon points="284.29,320.71 288.5,313.41 293.42,311.6 297.63,318.9 292.71,320.71"/><polygon points="279.37,322.56 283.58,315.26 288.5,313.41 292.71,320.71 287.8,322.56"/><polygon points="274.45,324.45 278.67,317.15 283.58,315.26 287.8,322.56 282.88,324.45"/><polygon points="269.54,326.39 273.75,319.09 278.67,317.15 282.88,324.45 277.96,326.39"/><polygon points="264.62,328.37 268.83,321.07 273.75,319.09 277.96,326.39 273.05,328.37"/><polygon points="259.7,330.4 263.92,323.1 268.83,321.07 273.05,328.37 268.13,330.4"/><polygon points="254.78,332.47 259,325.17 263.92,323.1 268.13,330.4 263.21,332.47"/><polygon points="249.87,334.59 254.08,327.29 259,325.17 263.21,332.47 258.3,334.59"/><polygon points="244.95,336.75 249.17,329.45 254.08,327.29 258.3,334.59 253.38,336.75"/><polygon points="240.03,338.95 244.25,331.65 249.17,329.45 253.38,336.75 248.47,338.95"/><polygon points="235.12,341.2 239.33,333.9 244.25,331.65 248.47,338.95 243.55,341.2"/><polygon points="230.2,343.5 234.42,336.2 239.33,333.9 243.55,341.2 238.63,343.5"/><polygon points="225.28,345.84 229.5,338.54 234.42,336.2 238.63,343.5 233.72,345.84"/><polygon points="220.37,348.22 224.58,340.92 229.5,338.54 233.72,345.84 228.8,348.22"/><polygon points="215.45,350.65 219.67,343.35 224.58,340.92 228.8,348.22 223.88,350.65"/><polygon points="210.53,353.12 214.75,345.82 219.67,343.35 223.88,350.65 218.97,353.12"/><polygon points="205.62,355.64 209.83,348.34 214.75,345.82 218.97,353.12 214.05,355.64"/><polygon points="200.7,358.2 204.92,350.9 209.83,348.34 214.05,355.64 209.13,358.2"/><polygon points="195.78,360.81 200,353.51 204.92,350.9 209.13,358.2 204.22,360.81"/><polygon points="191.78,362.63 196,355.33 200,353.51 204.22,360.81 200.22,362.63"/></g><line x1="163.5" y1="379.7" x2="109.45" y2="435.8" stroke="#1dc6ca" stroke-width="1.4"/><polygon points="103,442.5 108.38,433.38 111.91,436.78" fill="#1dc6ca"/><line x1="99.7" y1="493.7" x2="176.38" y2="462.6" stroke="#1dc6ca" stroke-width="1.4"/><polygon points="185,459.1 176.38,465.24 174.53,460.7" fill="#1dc6ca"/><line x1="292.3" y1="306.7" x2="221.84" y2="337.02" stroke="#1dc6ca" stroke-width="1.4"/><polygon points="213.3,340.7 221.79,334.38 223.73,338.88" fill="#1dc6ca"/><line x1="252.1" y1="407.4" x2="303.92" y2="345.62" stroke="#1dc6ca" stroke-width="1.4"/><polygon points="309.9,338.5 305.16,347.97 301.4,344.82" fill="#1dc6ca"/><line x1="214.6" y1="380.6" x2="209.7" y2="380.6" stroke="#1dc6ca" stroke-width="1.4"/><polygon points="200.4,380.6 210.7,378.15 210.7,383.05" fill="#1dc6ca"/><line x1="195.9" y1="443.5" x2="195.9" y2="436.3" stroke="#1dc6ca" stroke-width="1.4" stroke-dasharray="1.2 0.9"/><polygon points="195.9,427 198.35,437.3 193.45,437.3" fill="#1dc6ca"/></g>
<g><line x1="55.5" y1="502.56" x2="60.8" y2="502.56" stroke="#000" stroke-width="1.15"/><line x1="336.5" y1="502.56" x2="331.2" y2="502.56" stroke="#000" stroke-width="1.15"/><line x1="55.5" y1="485.3" x2="58.4" y2="485.3" stroke="#000" stroke-width="1.15"/><line x1="336.5" y1="485.3" x2="333.6" y2="485.3" stroke="#000" stroke-width="1.15"/><line x1="55.5" y1="468.04" x2="60.8" y2="468.04" stroke="#000" stroke-width="1.15"/><line x1="336.5" y1="468.04" x2="331.2" y2="468.04" stroke="#000" stroke-width="1.15"/><line x1="55.5" y1="450.78" x2="58.4" y2="450.78" stroke="#000" stroke-width="1.15"/><line x1="336.5" y1="450.78" x2="333.6" y2="450.78" stroke="#000" stroke-width="1.15"/><line x1="55.5" y1="433.52" x2="60.8" y2="433.52" stroke="#000" stroke-width="1.15"/><line x1="336.5" y1="433.52" x2="331.2" y2="433.52" stroke="#000" stroke-width="1.15"/><line x1="55.5" y1="416.26" x2="58.4" y2="416.26" stroke="#000" stroke-width="1.15"/><line x1="336.5" y1="416.26" x2="333.6" y2="416.26" stroke="#000" stroke-width="1.15"/><line x1="55.5" y1="399" x2="60.8" y2="399" stroke="#000" stroke-width="1.15"/><line x1="336.5" y1="399" x2="331.2" y2="399" stroke="#000" stroke-width="1.15"/><line x1="55.5" y1="381.74" x2="58.4" y2="381.74" stroke="#000" stroke-width="1.15"/><line x1="336.5" y1="381.74" x2="333.6" y2="381.74" stroke="#000" stroke-width="1.15"/><line x1="55.5" y1="364.48" x2="60.8" y2="364.48" stroke="#000" stroke-width="1.15"/><line x1="336.5" y1="364.48" x2="331.2" y2="364.48" stroke="#000" stroke-width="1.15"/><line x1="55.5" y1="347.22" x2="58.4" y2="347.22" stroke="#000" stroke-width="1.15"/><line x1="336.5" y1="347.22" x2="333.6" y2="347.22" stroke="#000" stroke-width="1.15"/><line x1="55.5" y1="329.96" x2="60.8" y2="329.96" stroke="#000" stroke-width="1.15"/><line x1="336.5" y1="329.96" x2="331.2" y2="329.96" stroke="#000" stroke-width="1.15"/><line x1="55.5" y1="312.7" x2="58.4" y2="312.7" stroke="#000" stroke-width="1.15"/><line x1="336.5" y1="312.7" x2="333.6" y2="312.7" stroke="#000" stroke-width="1.15"/><line x1="55.5" y1="295.44" x2="60.8" y2="295.44" stroke="#000" stroke-width="1.15"/><line x1="336.5" y1="295.44" x2="331.2" y2="295.44" stroke="#000" stroke-width="1.15"/><line x1="68.2" y1="506" x2="68.2" y2="500.7" stroke="#000" stroke-width="1.15"/><line x1="100.1" y1="506" x2="100.1" y2="503.1" stroke="#000" stroke-width="1.15"/><line x1="132" y1="506" x2="132" y2="500.7" stroke="#000" stroke-width="1.15"/><line x1="163.9" y1="506" x2="163.9" y2="503.1" stroke="#000" stroke-width="1.15"/><line x1="195.8" y1="506" x2="195.8" y2="500.7" stroke="#000" stroke-width="1.15"/><line x1="227.7" y1="506" x2="227.7" y2="503.1" stroke="#000" stroke-width="1.15"/><line x1="259.6" y1="506" x2="259.6" y2="500.7" stroke="#000" stroke-width="1.15"/><line x1="291.5" y1="506" x2="291.5" y2="503.1" stroke="#000" stroke-width="1.15"/><line x1="323.4" y1="506" x2="323.4" y2="500.7" stroke="#000" stroke-width="1.15"/></g>
<rect x="55.5" y="292.1" width="137.7" height="36.5" fill="#fff" stroke="#555" stroke-width="1"/>
<line x1="57.1" y1="301.9" x2="68.7" y2="301.9" stroke="#b4b4b4" stroke-width="1.6"/>
<line x1="77" y1="301.9" x2="89.7" y2="301.9" stroke="#b4b4b4" stroke-width="1.6"/>
<rect x="69.75" y="298.65" width="6.3" height="6.3" fill="#000"/>
<line x1="57.1" y1="319.4" x2="68.7" y2="319.4" stroke="#ff0000" stroke-width="1.1"/>
<line x1="77.4" y1="319.4" x2="89.7" y2="319.4" stroke="#ff0000" stroke-width="1.1"/>
<polygon points="73.1,314.9 69.0,322.0 77.2,322.0" fill="#ff0000"/>
<text x="92.5" y="306.5" font-size="14.3" text-anchor="start">Negative polarity</text>
<text x="92.5" y="324.6" font-size="14.3" text-anchor="start">Positive polarity</text>
<rect x="55.5" y="292.1" width="281" height="213.9" fill="none" stroke="#000" stroke-width="1.2"/>
<line x1="55.5" y1="292.8" x2="55.5" y2="328.3" stroke="#8a8a8a" stroke-width="1.3"/>
<line x1="56.1" y1="292.1" x2="335.9" y2="292.1" stroke="#2a2a2a" stroke-width="1.3"/>
<text x="49" y="507.16" font-size="14.3" text-anchor="end">&#8722;300</text>
<text x="49" y="472.64" font-size="14.3" text-anchor="end">&#8722;200</text>
<text x="49" y="438.12" font-size="14.3" text-anchor="end">&#8722;100</text>
<text x="49" y="403.6" font-size="14.3" text-anchor="end">0</text>
<text x="49" y="369.08" font-size="14.3" text-anchor="end">100</text>
<text x="49" y="334.56" font-size="14.3" text-anchor="end">200</text>
<text x="49" y="300.04" font-size="14.3" text-anchor="end">300</text>
<text x="67.8" y="522.9" font-size="14.2" text-anchor="middle">&#8722;1000</text>
<text x="131.6" y="522.9" font-size="14.2" text-anchor="middle">&#8722;500</text>
<text x="195.4" y="522.9" font-size="14.2" text-anchor="middle">0</text>
<text x="259.2" y="522.9" font-size="14.2" text-anchor="middle">500</text>
<text x="323" y="522.9" font-size="14.2" text-anchor="middle">1000</text>
<text x="167.6" y="364.6" font-size="14.4" text-anchor="start">End</text>
<text x="215.3" y="384.6" font-size="14.4" text-anchor="start">Start</text>
<text x="195.8" y="542.2" font-size="17" text-anchor="middle"><tspan font-style="italic">I</tspan> (A)</text>
<text transform="translate(14.3,391.4) rotate(-90)" x="0" y="0" font-size="16.8" text-anchor="middle"><tspan font-style="italic">B</tspan><tspan font-size="11" dy="3.5"><tspan font-style="italic">z</tspan>, CF</tspan><tspan dy="-3.5"> (mT)</tspan></text>
</svg>
</body></html>
